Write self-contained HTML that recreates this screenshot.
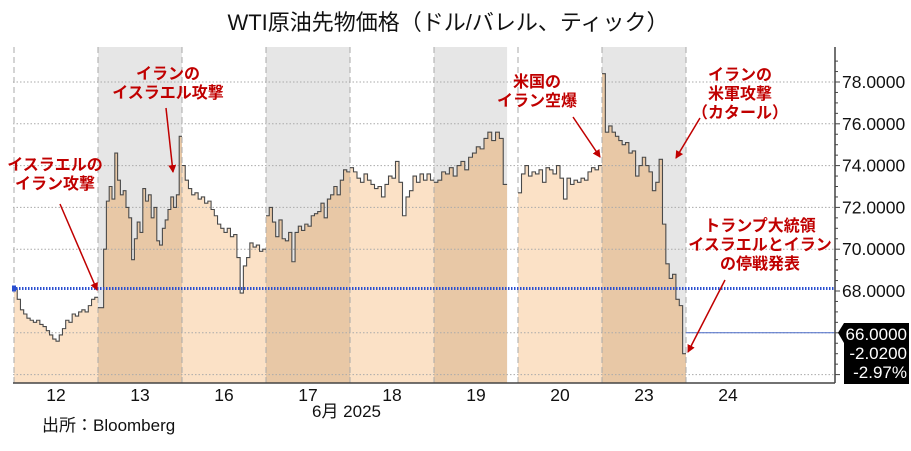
<!DOCTYPE html>
<html><head><meta charset="utf-8">
<style>
html,body{margin:0;padding:0;background:#fff;}
body{width:911px;height:446px;overflow:hidden;font-family:"Liberation Sans","Noto Sans CJK JP",sans-serif;}
svg text{font-family:"Liberation Sans","Noto Sans CJK JP",sans-serif;}
</style></head>
<body>
<svg id="chart" width="911" height="446" xmlns="http://www.w3.org/2000/svg">
<text x="448" y="30" font-size="22" text-anchor="middle" fill="#111">WTI原油先物価格（ドル/バレル、ティック）</text>
<g id="bands"></g><g id="fills"></g><g id="grid"></g><g id="line"></g><g id="axes"></g><g id="ann"></g>
<text x="312" y="417" font-size="17" fill="#111">6月 2025</text>
<text x="42" y="431" font-size="17" fill="#111">出所：Bloomberg</text>
</svg>
<script>
const dayLabels=["12","13","16","17","18","19","20","23","24"];
const dayShaded=[false,true,false,true,false,true,false,true,false];
const dayCoverage=[1,1,1,1,1,0.87,1,1,0];
const day12=[68.1,67.6,67.1,66.9,66.7,66.6,66.5,66.6,66.4,66.3,66.1,65.9,65.7,65.6,65.9,66.2,66.6,66.5,66.9,66.8,67.0,67.1,67.0,67.3,67.6,67.7];
const day13=[67.2,67.2,70.0,72.3,73.0,72.4,74.6,73.3,72.6,72.8,72.0,71.5,69.5,70.5,71.3,70.8,72.9,72.3,72.6,71.5,72.0,70.4,70.2,71.0,71.4,71.9,72.5,72.0,72.6,75.4];
const day16=[74.0,73.3,72.9,72.6,72.7,72.4,72.5,72.2,72.3,71.9,71.6,71.2,71.0,70.8,71.0,70.6,70.7,69.6,67.9,69.2,69.6,70.3,70.1,70.2,69.9,70.0];
const day17=[71.6,72.0,71.3,70.6,71.4,70.5,70.4,70.8,69.4,70.8,71.1,70.9,71.2,71.1,71.6,71.7,71.8,72.2,71.5,72.4,72.6,73.0,72.6,73.3,73.8,73.7];
const day18=[73.9,73.7,73.4,73.2,73.6,73.3,73.1,72.9,73.0,72.5,73.1,73.5,73.4,74.2,73.2,71.6,72.5,72.8,73.5,73.2,73.6,73.3,73.6,73.3];
const day19=[73.2,73.3,73.7,73.6,73.9,73.5,74.0,74.2,73.8,74.4,74.6,74.9,74.8,75.3,75.6,75.2,75.6,75.3,73.1];
const day20=[72.7,73.6,74.0,73.5,73.7,73.6,73.8,73.2,73.9,73.8,73.6,74.0,73.4,72.4,73.4,73.1,73.3,73.2,73.4,73.3,73.7,73.9,73.8,74.0];
const day23=[78.4,75.6,75.9,75.6,75.4,75.2,75.0,75.1,74.6,74.7,73.5,74.0,74.4,74.0,73.7,72.8,73.2,74.3,71.2,69.3,68.6,68.8,67.6,67.3,65.0];
const day24=[];
const dayValues=[day12,day13,day16,day17,day18,day19,day20,day23,day24];
const yTicks=[78,76,74,72,70,68];
const refValue=68.12, lastValue=66.0;
const lastLabels=["66.0000","-2.0200","-2.97%"];

const svg=document.getElementById('chart');
const NS="http://www.w3.org/2000/svg";
const L=13,R=835,T=47,B=383,X0=14,DW=84;
function yS(v){return 82+(78-v)*20.9;}
function dayX(i){return X0+i*DW;}
function mk(tag,attrs,parent){const e=document.createElementNS(NS,tag);for(const k in attrs)e.setAttribute(k,attrs[k]);parent.appendChild(e);return e;}
const bands=document.getElementById('bands'),fills=document.getElementById('fills'),grid=document.getElementById('grid'),line=document.getElementById('line'),axes=document.getElementById('axes'),ann=document.getElementById('ann');

dayLabels.forEach((d,i)=>{
  const x=dayX(i), w=DW*(dayShaded[i]?dayCoverage[i]:1);
  if(dayShaded[i]){const r=mk('rect',{x:x,y:T,width:w,height:B-T,fill:'#e6e6e6'},bands);
    
    }
  const t=mk('text',{x:x+DW/2,y:401,'font-size':17.5,'text-anchor':'middle',fill:'#111'},axes);t.textContent=d;
  
  
});
[78,76,74,72,70,66,64].forEach(v=>{mk('line',{x1:L,x2:R,y1:yS(v),y2:yS(v),stroke:'#aaa','stroke-width':1,'stroke-dasharray':'1.5,2'},grid);});
for(let i=0;i<9;i++){const ln=mk('line',{x1:dayX(i),x2:dayX(i),y1:T,y2:B,stroke:'#aaa','stroke-width':1,'stroke-dasharray':'6,4'},grid);
  
  }

let pathD="";
dayValues.forEach((vals,i)=>{
  if(!vals.length)return;
  const span=DW*dayCoverage[i], step=span/vals.length, x0=dayX(i);
  let d="M"+x0+","+B;
  vals.forEach((v,j)=>{const xa=x0+j*step,xb=x0+(j+1)*step;d+=" L"+xa+","+yS(v)+" L"+xb+","+yS(v);
    pathD+=(j===0?" M":" L")+xa+","+yS(v)+" L"+xb+","+yS(v);});
  d+=" L"+(x0+span)+","+B+" Z";
  const f=mk('path',{d:d,fill:dayShaded[i]?'#e8c8a6':'#fbe1c6'},fills);
  
  
});
const p=mk('path',{d:pathD,fill:'none',stroke:'#4a4a4a','stroke-width':1.1},line);



const rl=mk('line',{x1:L,x2:R,y1:yS(refValue),y2:yS(refValue),stroke:'#2a4fd0','stroke-width':3,'stroke-dasharray':'1.5,1.5'},line);


mk('rect',{x:12,y:yS(refValue)-3,width:4,height:6,fill:'#2a4fd0'},line);
const lastX=dayX(7)+DW*dayCoverage[7];
const ll=mk('line',{x1:lastX,x2:R,y1:yS(lastValue),y2:yS(lastValue),stroke:'#4a6bc8','stroke-width':1},line);



mk('line',{x1:L,x2:R,y1:B,y2:B,stroke:'#444','stroke-width':1.5},axes);
mk('line',{x1:R,x2:R,y1:T,y2:B,stroke:'#444','stroke-width':1.5},axes);
for(let v=64;v<=79;v+=0.5){const big=(v%2===0);mk('line',{x1:R,x2:R+(big?5:3),y1:yS(v),y2:yS(v),stroke:'#444','stroke-width':1},axes);}
yTicks.forEach(v=>{const t=mk('text',{x:842,y:yS(v)+6,'font-size':17.5,fill:'#111'},axes);t.textContent=v.toFixed(4);
  
  });
const bx=mk('path',{d:"M838,"+(yS(lastValue))+" L844,323 L909,323 L909,384 L844,384 L844,343 Z",fill:'#000'},axes);


lastLabels.forEach((s,k)=>{const t=mk('text',{x:907,y:340+k*19,'font-size':17,'text-anchor':'end',fill:'#fff'},axes);t.textContent=s;
  
  });

const defs=mk('defs',{},svg);
const m=mk('marker',{id:'ah',markerWidth:8,markerHeight:8,refX:7,refY:4,orient:'auto',markerUnits:'userSpaceOnUse'},defs);
mk('path',{d:'M0,0 L8,4 L0,8 Z',fill:'#c00000'},m);
const notes=[
 {name:'annotation-israel-strike',lines:['イスラエルの','イラン攻撃'],x:55,y:170,a:[60,204,97,290]},
 {name:'annotation-iran-strike',lines:['イランの','イスラエル攻撃'],x:168,y:79,a:[166,108,173,172]},
 {name:'annotation-us-strike',lines:['米国の','イラン空爆'],x:537,y:87,a:[573,117,600,157]},
 {name:'annotation-iran-qatar',lines:['イランの','米軍攻撃','（カタール）'],x:740,y:80,a:[700,118,676,158]},
 {name:'annotation-ceasefire',lines:['トランプ大統領','イスラエルとイラン','の停戦発表'],x:760,y:231,a:[725,280,688,352]}
];
notes.forEach(n=>{
  const g=mk('g',{},ann);
  
  
  n.lines.forEach((s,k)=>{const t=mk('text',{x:n.x,y:n.y+k*19,'font-size':16,'font-weight':'bold','text-anchor':'middle',fill:'#c00000'},g);t.textContent=s;});
  mk('line',{x1:n.a[0],y1:n.a[1],x2:n.a[2],y2:n.a[3],stroke:'#c00000','stroke-width':1.5,'marker-end':'url(#ah)'},g);
});
</script>
</body></html>
